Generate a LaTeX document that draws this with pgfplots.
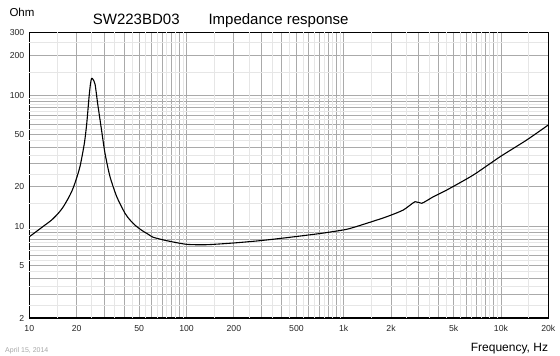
\documentclass[border=0pt]{standalone}
\usepackage{fontspec}
\setmainfont{Liberation Sans}
\usepackage{pgfplots}
\pgfplotsset{compat=1.18}
\definecolor{gridmid}{HTML}{AAAAAA}
\definecolor{gridlight}{HTML}{E6E6E6}
\begin{document}
\begin{tikzpicture}[x=1pt,y=1pt]
\useasboundingbox (0,0) rectangle (560,356);
\begin{axis}[
  at={(29.3pt,38pt)}, anchor=south west,
  scale only axis, width=519pt, height=285.5pt,
  xmode=log, ymode=log,
  xmin=10, xmax=20000, ymin=2, ymax=300,
  log basis x=10, log basis y=10,
  xtick={10,20,50,100,200,500,1000,2000,5000,10000,20000},
  xticklabels={10,20,50,100,200,500,1k,2k,5k,10k,20k},
  ytick={2,5,10,20,50,100,200,300},
  yticklabels={2,5,10,20,50,100,200,300},
  minor xtick={30,40,60,70,80,90,300,400,600,700,800,900,3000,4000,6000,7000,8000,9000},
  minor ytick={3,4,6,7,8,9,30,40,60,70,80,90},
  extra x ticks={15,25,35,45,55,65,75,85,95,150,250,350,450,550,650,750,850,950,1500,2500,3500,4500,5500,6500,7500,8500,9500,15000},
  extra x tick labels={},
  extra y ticks={2.5,3.5,4.5,5.5,6.5,7.5,8.5,9.5,15,25,35,45,55,65,75,85,95,150,250},
  extra y tick labels={},
  extra x tick style={grid=major, major grid style={gridlight, line width=0.8pt}},
  extra y tick style={grid=major, major grid style={gridlight, line width=0.8pt}},
  grid=both,
  major grid style={gridmid, line width=0.8pt},
  minor grid style={gridmid, line width=0.8pt},
  major tick length=0pt, minor tick length=0pt,
  axis line style={black, line width=1.3pt},
  ticklabel style={font=\fontsize{8.7}{10}\selectfont, text=black!85},
  xticklabel style={yshift=-3.5pt},
  yticklabel style={xshift=-1.5pt},
  log ticks with fixed point,
]
\addplot[black, line width=1.1pt, smooth, tension=0.4] coordinates {
(10,8.33) (10.35,8.58) (12.6,10.23) (13.88,11.17) (15.3,12.57) (16.45,14.08)
(17.7,16.35) (18.6,18.4) (19.5,21.26)
(21.0,28.46) (22.4,42.9) (23.2,61.0) (24.0,97.2) (24.5,122) (24.9,134.2)
(25.4,132) (26.2,121) (27.2,86.6) (28.6,57.4) (30.3,36.0) (32.6,23.9)
(36.0,16.8) (40.6,12.57) (43.7,11.17) (47,10.2) (52,9.3) (57,8.7)
(61.5,8.24) (74.8,7.77) (100,7.29) (134,7.24) (199,7.46) (293,7.77)
(434,8.19) (707,8.81) (1045,9.49) (1400,10.54) (1877,11.83) (2393,13.31)
(2842,15.4) (3134,14.97) (3715,16.8) (4520,18.9) (6670,24.6) (9870,33.9)
(14590,45.5) (20000,59.2)
};
\end{axis}
\node[anchor=base west, inner sep=0pt, font=\fontsize{11.5}{13}\selectfont] at (9.3,339.3) {Ohm};
\node[anchor=base west, inner sep=0pt, font=\fontsize{15}{17}\selectfont] at (92.7,331.7) {SW223BD03};
\node[anchor=base west, inner sep=0pt, font=\fontsize{15}{17}\selectfont] at (208.3,331.7) {Impedance response};
\node[anchor=base west, inner sep=0pt, font=\fontsize{12}{14}\selectfont] at (470.7,4.5) {Frequency, Hz};
\node[anchor=base west, inner sep=0pt, font=\fontsize{7}{8}\selectfont, text=black!35] at (5,3.5) {April 15, 2014};
\end{tikzpicture}
\end{document}
